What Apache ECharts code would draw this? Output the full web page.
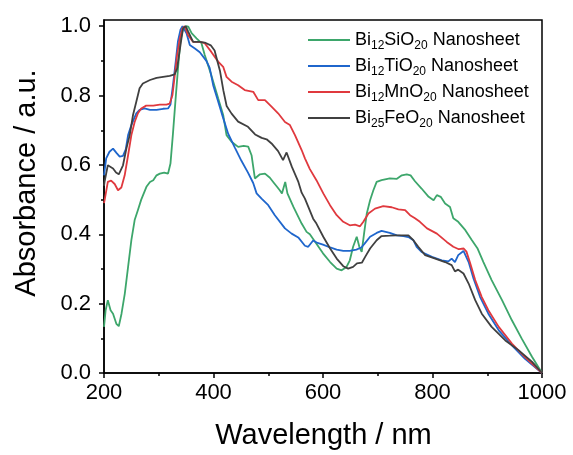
<!DOCTYPE html>
<html><head><meta charset="utf-8">
<script src="https://cdn.jsdelivr.net/npm/echarts@6/dist/echarts.min.js"></script>
<style>html,body{margin:0;padding:0;background:#fff}#c{width:573px;height:455px}</style>
</head><body><div id="c"></div>
<script>
const seriesNames = ['Bi12SiO20 Nanosheet', 'Bi12TiO20 Nanosheet', 'Bi12MnO20 Nanosheet', 'Bi25FeO20 Nanosheet'];
const seriesLabels = ['Bi{s|12}SiO{s|20} Nanosheet', 'Bi{s|12}TiO{s|20} Nanosheet', 'Bi{s|12}MnO{s|20} Nanosheet', 'Bi{s|25}FeO{s|20} Nanosheet'];
const seriesColors = ['#3DA66B', '#1F66CC', '#E0393E', '#404040'];
const xTicks = [200, 400, 600, 800, 1000];
const yTicks = [0, 0.2, 0.4, 0.6, 0.8, 1.0];
const yMinorTicks = [0.1, 0.3, 0.5, 0.7, 0.9];

const siWl  = [200,203,207,212,216.5,222.6,227,232,238,244,250,256,262,268,277.5,284,290,296,302,310,317,321.4,326,330.6,335.4,339.7,344.5,350,354,360,369,378,384,396,408.5,417.7,423.8,433,445,455,463.4,469.5,475.6,484.8,494,503,509,516,521,525,531,535,546,561,570,576,588,600,613,625,634,643,649,655,661.6,666.4,670.7,675,680,686,692,698,707,722,735,744,753,760,768,780,793,802,808,815,823,832,838,847,860,872,882,893,908,927,945,963,982,1000];
const siAbs = [0.133,0.181,0.21,0.181,0.171,0.142,0.135,0.171,0.229,0.306,0.383,0.441,0.47,0.50,0.537,0.551,0.556,0.570,0.575,0.578,0.575,0.604,0.691,0.787,0.883,0.960,0.995,1.0,0.999,0.98,0.965,0.951,0.917,0.859,0.792,0.744,0.686,0.667,0.652,0.655,0.653,0.628,0.561,0.573,0.575,0.563,0.551,0.537,0.527,0.518,0.551,0.518,0.479,0.431,0.407,0.40,0.373,0.345,0.320,0.301,0.296,0.306,0.325,0.364,0.393,0.364,0.349,0.402,0.460,0.498,0.527,0.551,0.556,0.561,0.560,0.570,0.573,0.570,0.553,0.532,0.508,0.498,0.513,0.508,0.489,0.479,0.446,0.436,0.412,0.383,0.36,0.32,0.268,0.210,0.152,0.099,0.046,0];

const tiWl  = [200,204,210,216.5,222.7,228.7,234.7,239.7,244,250,259,265,274,284,296,308,317,321.4,326,331,335,339.7,343.4,350.7,356.7,366,375,387,393,399.4,408.5,417.7,426.8,439,451,463,472.5,478.7,487.8,500,512,530.5,542.7,554.8,567,573,582,590,600,613,625,637,649,661,670,676,686,698,707,722,735,747,756,765,771,780,799,817,829,835,841,847,856.6,860,866,875,887,902,921,945,969,1000];
const tiAbs = [0.57,0.619,0.638,0.647,0.635,0.624,0.626,0.645,0.686,0.715,0.749,0.759,0.763,0.759,0.759,0.762,0.763,0.774,0.830,0.898,0.956,0.99,1.0,0.98,0.946,0.936,0.925,0.90,0.88,0.83,0.783,0.735,0.69,0.65,0.612,0.578,0.548,0.518,0.503,0.484,0.455,0.417,0.402,0.391,0.367,0.364,0.382,0.375,0.37,0.362,0.356,0.352,0.352,0.356,0.362,0.373,0.393,0.404,0.410,0.404,0.397,0.395,0.392,0.383,0.364,0.349,0.335,0.325,0.322,0.33,0.32,0.34,0.352,0.35,0.32,0.272,0.219,0.171,0.123,0.080,0.041,0];

const mnWl  = [200,201.3,207,213,219.5,225.6,231.7,237.8,244,250,256,262,268,277,290,302,314,320,325,329.3,333.5,338.4,343.3,347.5,353.6,362.8,375,384,396,408.5,417.7,423.8,433,445,457,472.6,481.7,494,506,518,530.5,539.6,548.8,561,567,576,588,600.5,612.8,625,637,649,658.5,667.6,673.7,683,695,710,725.5,737.7,750,759,768,777,790,808,826,838,848,857,862,869,878,890,902,921,945,969,1000];
const mnAbs = [0.49,0.50,0.551,0.555,0.545,0.527,0.535,0.570,0.628,0.686,0.724,0.749,0.763,0.771,0.771,0.774,0.774,0.777,0.801,0.859,0.917,0.965,0.994,1.0,0.974,0.955,0.955,0.951,0.926,0.898,0.883,0.854,0.840,0.830,0.816,0.811,0.787,0.787,0.768,0.749,0.724,0.715,0.686,0.643,0.619,0.588,0.556,0.518,0.484,0.455,0.436,0.426,0.428,0.423,0.436,0.460,0.474,0.481,0.478,0.472,0.470,0.455,0.446,0.436,0.417,0.402,0.378,0.364,0.357,0.359,0.35,0.316,0.268,0.219,0.181,0.133,0.085,0.046,0];

const feWl  = [200,201,207,216.5,222,227,234.7,241,247,253,259,265,271,284,296,308,320,329,333.5,337,341.5,344.5,349.4,353.6,362.8,375,384,395,402,407,412,418,424,433,445,463,476,488,497,506,518,527,533.5,543,555,561,567,573,582,588,600.5,613,625,637,646,655,662,671,677,686,698,707,722,735,747,756,765,774,786.5,805,823,835,841,847,856.6,866,878,890,908,933,957,982,1000];
const feAbs = [0.54,0.551,0.599,0.590,0.578,0.573,0.599,0.648,0.686,0.744,0.782,0.821,0.835,0.845,0.851,0.854,0.857,0.861,0.878,0.917,0.965,0.994,1.0,0.985,0.955,0.955,0.953,0.945,0.93,0.90,0.87,0.815,0.77,0.748,0.725,0.710,0.688,0.678,0.674,0.662,0.640,0.614,0.636,0.595,0.551,0.52,0.503,0.48,0.445,0.431,0.393,0.359,0.330,0.308,0.301,0.306,0.316,0.318,0.335,0.359,0.383,0.395,0.396,0.397,0.397,0.397,0.383,0.364,0.340,0.330,0.320,0.311,0.293,0.298,0.287,0.258,0.210,0.171,0.133,0.094,0.066,0.032,0];

const wls = [siWl, tiWl, mnWl, feWl];
const abss = [siAbs, tiAbs, mnAbs, feAbs];
const FONT = 'Liberation Sans, Arial, Helvetica, sans-serif';

const chart = echarts.init(document.getElementById('c'), null, {renderer: 'canvas'});
const labelMap = {};
seriesNames.forEach((n, i) => labelMap[n] = seriesLabels[i]);

chart.setOption({
  animation: false,
  backgroundColor: '#fff',
  grid: {left: 104, right: 31, top: 20, bottom: 82, show: true, borderColor: '#000', borderWidth: 1.5, backgroundColor: 'transparent'},
  legend: {
    orient: 'vertical', left: 308, top: 28, padding: 0, itemGap: 2,
    itemWidth: 42, itemHeight: 2, icon: 'rect',
    data: seriesNames,
    formatter: n => labelMap[n],
    textStyle: {fontFamily: FONT, fontSize: 18, color: '#000', lineHeight: 24,
      rich: {s: {fontFamily: FONT, fontSize: 12, color: '#000', lineHeight: 12, verticalAlign: 'bottom'}}}
  },
  xAxis: {
    type: 'value', min: 200, max: 1000, interval: 200,
    axisLine: {show: true, lineStyle: {color: '#000', width: 1.5}},
    axisTick: {show: true, length: 5, lineStyle: {color: '#000', width: 1.5}},
    minorTick: {show: true, splitNumber: 2, length: 3, lineStyle: {color: '#000', width: 1.5}},
    axisLabel: {fontFamily: FONT, fontSize: 22, color: '#000', margin: 9,
      customValues: xTicks, formatter: v => String(Math.round(v))},
    splitLine: {show: false}, minorSplitLine: {show: false}
  },
  yAxis: [{
    type: 'value', min: 0, max: 1.018,
    axisLine: {show: true, lineStyle: {color: '#000', width: 1.5}},
    axisTick: {show: true, length: 5, customValues: yTicks, lineStyle: {color: '#000', width: 1.5}},
    axisLabel: {fontFamily: FONT, fontSize: 22, color: '#000', margin: 13,
      customValues: yTicks, formatter: v => v.toFixed(1)},
    splitLine: {show: false}
  }, {
    type: 'value', min: 0, max: 1.018, position: 'left',
    axisLine: {show: false},
    axisTick: {show: true, length: 3, customValues: yMinorTicks, lineStyle: {color: '#000', width: 1.5}},
    axisLabel: {show: false},
    splitLine: {show: false}
  }],
  graphic: [
    {type: 'text', x: 27, y: 183, rotation: Math.PI / 2,
      style: {text: 'Absorbance / a.u.', fontFamily: FONT, fontSize: 29, fill: '#000', align: 'center', verticalAlign: 'middle'}},
    {type: 'text', x: 323.5, y: 436,
      style: {text: 'Wavelength / nm', fontFamily: FONT, fontSize: 29, fill: '#000', align: 'center', verticalAlign: 'middle'}}
  ],
  series: seriesNames.map((n, i) => ({
    name: n, type: 'line', yAxisIndex: 0, showSymbol: false, symbol: 'none',
    lineStyle: {color: seriesColors[i], width: 1.8},
    itemStyle: {color: seriesColors[i]},
    data: wls[i].map((w, k) => [w, abss[i][k]])
  }))
});
</script></body></html>
